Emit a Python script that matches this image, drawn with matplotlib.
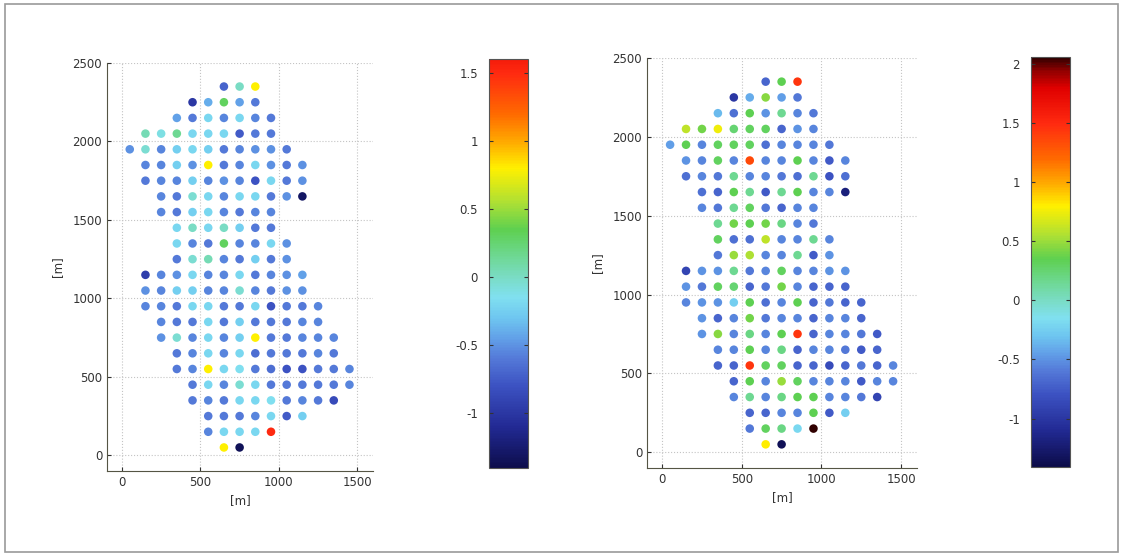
import matplotlib
matplotlib.use('Agg')
import matplotlib.pyplot as plt
import numpy as np
from matplotlib.colors import LinearSegmentedColormap, Normalize, to_rgb
from matplotlib.cm import ScalarMappable
from matplotlib.patches import Rectangle
from matplotlib.ticker import FormatStrFormatter

# grid rows: y position [m], x of first point [m]
row_y = [2350, 2250, 2150, 2050, 1950, 1850, 1750, 1650, 1550, 1450, 1350, 1250,
         1150, 1050, 950, 850, 750, 650, 550, 450, 350, 250, 150, 50]
row_x0 = [650, 450, 350, 150, 50, 150, 150, 250, 250, 350, 350, 350,
          150, 150, 150, 250, 250, 350, 350, 450, 450, 550, 550, 650]

# values per row, left panel
vals_left = [
    [-0.7, 0.0, 0.8],
    [-1.0, -0.4, 0.3, -0.45, -0.6],
    [-0.45, -0.6, -0.2, -0.55, -0.2, -0.55, -0.6],
    [0.05, -0.1, 0.15, -0.2, -0.2, -0.2, -0.75, -0.6, -0.6],
    [-0.5, -0.05, -0.55, -0.25, -0.2, -0.25, -0.6, -0.55, -0.5, -0.5, -0.6],
    [-0.55, -0.55, -0.25, -0.5, 0.8, -0.6, -0.55, -0.2, -0.5, -0.6, -0.5],
    [-0.6, -0.55, -0.55, -0.25, -0.55, -0.5, -0.55, -0.8, -0.2, -0.6, -0.5],
    [-0.55, -0.6, -0.05, -0.2, -0.55, -0.2, -0.2, -0.6, -0.5, -1.3],
    [-0.55, -0.6, -0.25, -0.2, -0.55, -0.6, -0.55, -0.55],
    [-0.2, 0.0, -0.2, 0.0, -0.25, -0.6, -0.6],
    [-0.2, -0.55, -0.6, 0.3, -0.55, -0.55, -0.2, -0.5],
    [-0.6, -0.05, 0.05, -0.55, -0.6, -0.25, -0.6, -0.5],
    [-0.95, -0.55, -0.5, -0.2, -0.55, -0.55, -0.2, -0.6, -0.55, -0.5, -0.45],
    [-0.5, -0.55, -0.25, -0.25, -0.55, -0.55, -0.05, -0.55, -0.6, -0.5, -0.5],
    [-0.55, -0.55, -0.6, -0.2, -0.2, -0.6, -0.6, -0.2, -0.8, -0.6, -0.6, -0.55],
    [-0.55, -0.6, -0.6, -0.2, -0.6, -0.25, -0.6, -0.6, -0.6, -0.55, -0.55],
    [-0.5, -0.05, -0.55, -0.2, -0.55, -0.25, 0.8, -0.6, -0.6, -0.55, -0.55, -0.55],
    [-0.6, -0.55, -0.2, -0.55, -0.2, -0.65, -0.6, -0.6, -0.6, -0.55, -0.6],
    [-0.6, -0.55, 0.8, -0.2, -0.15, -0.6, -0.65, -0.8, -0.8, -0.6, -0.6, -0.55],
    [-0.6, -0.2, -0.55, -0.05, -0.2, -0.6, -0.6, -0.6, -0.6, -0.6, -0.55],
    [-0.6, -0.55, -0.6, -0.2, -0.2, -0.15, -0.6, -0.55, -0.6, -0.85],
    [-0.6, -0.6, -0.6, -0.55, -0.2, -0.75, -0.25],
    [-0.55, -0.2, -0.2, -0.2, 1.5],
    [0.8, -1.35],
]

# values per row, right panel
vals_right = [
    [-0.7, 0.35, 1.45],
    [-1.0, -0.4, 0.45, -0.45, -0.6],
    [-0.35, -0.65, 0.35, -0.5, 0.15, -0.55, -0.6],
    [0.6, 0.4, 0.75, 0.25, 0.3, 0.3, -0.7, -0.5, -0.55],
    [-0.45, 0.35, -0.55, 0.3, 0.3, 0.3, -0.65, -0.55, -0.55, -0.55, -0.6],
    [-0.5, -0.55, 0.3, -0.55, 1.35, -0.55, -0.55, 0.35, -0.55, -0.75, -0.55],
    [-0.65, -0.55, -0.6, 0.15, -0.55, -0.55, -0.6, -0.65, 0.15, -0.8, -0.65],
    [-0.65, -0.7, 0.35, 0.15, -0.75, 0.15, 0.35, -0.55, -0.55, -1.2],
    [-0.55, -0.6, 0.15, 0.3, -0.6, -0.7, -0.55, -0.55],
    [0.15, 0.4, 0.35, 0.4, 0.2, -0.55, -0.6],
    [0.3, -0.65, -0.65, 0.6, -0.55, -0.55, 0.15, -0.55],
    [-0.6, 0.5, 0.55, -0.55, -0.55, 0.15, -0.75, -0.5],
    [-0.9, -0.5, -0.5, 0.15, -0.6, -0.55, 0.3, -0.55, -0.55, -0.5, -0.5],
    [-0.5, -0.6, 0.3, 0.25, -0.7, -0.6, 0.4, -0.55, -0.7, -0.7, -0.7],
    [-0.55, -0.5, -0.5, -0.25, 0.35, -0.65, -0.55, 0.35, -0.7, -0.6, -0.7, -0.7],
    [-0.5, -0.7, -0.55, 0.4, -0.6, -0.55, -0.55, -0.7, -0.55, -0.55, -0.7],
    [-0.5, 0.45, -0.55, 0.2, -0.55, 0.35, 1.45, -0.7, -0.55, -0.55, -0.6, -0.75],
    [-0.55, -0.55, 0.35, -0.55, 0.2, -0.7, -0.55, -0.55, -0.6, -0.75, -0.7],
    [-0.7, -0.7, 1.45, 0.3, 0.3, -0.7, -0.7, -0.85, -0.7, -0.6, -0.7, -0.55],
    [-0.7, 0.35, -0.55, 0.5, 0.3, -0.55, -0.55, -0.55, -0.75, -0.55, -0.55],
    [-0.55, 0.15, -0.55, 0.2, 0.35, 0.35, -0.55, -0.55, -0.6, -0.9],
    [-0.7, -0.7, -0.55, -0.55, 0.35, -0.75, -0.25],
    [-0.6, 0.3, 0.2, -0.2, 2.05],
    [0.8, -1.35],
]

clim_left = (-1.4, 1.6)
clim_right = (-1.41, 2.06)

# scanned-jet style colour anchors (value, colour)
anchor_v = [-1.41, -1.1, -0.8, -0.6, -0.45, -0.3, -0.15, 0.0, 0.15, 0.35,
            0.55, 0.8, 1.0, 1.2, 1.5, 1.8, 1.95, 2.06]
anchor_c = ['#0c0c4a', '#222a94', '#3c52c2', '#5479d8', '#62a0e8', '#6ec6f0',
            '#80e0f0', '#7adcc4', '#6ed894', '#5ed050', '#aee034', '#fff000',
            '#ffa800', '#ff6a00', '#ff2a10', '#e00000', '#900000', '#300000']


def make_cmap(vmin, vmax):
    vv = np.linspace(vmin, vmax, 256)
    rgb = np.array([to_rgb(c) for c in anchor_c])
    cols = np.stack([np.interp(vv, anchor_v, rgb[:, i]) for i in range(3)], axis=1)
    return LinearSegmentedColormap.from_list('scan_jet', cols)


def points(vals):
    xs, ys, cs = [], [], []
    for y, x0, row in zip(row_y, row_x0, vals):
        for i, v in enumerate(row):
            xs.append(x0 + 100 * i)
            ys.append(y)
            cs.append(v)
    return np.array(xs), np.array(ys), np.array(cs)


W, H = 1121, 554
fig = plt.figure(figsize=(W / 100, H / 100), dpi=100)
fig.patches.append(Rectangle((5 / W, 2 / H), 1113 / W, 548 / H, transform=fig.transFigure,
                             fill=False, edgecolor='#9a9a9a', lw=1.2))

tc = '#333333'
panels = [
    (vals_left, clim_left, [107 / W, 1 - 471 / H, 266 / W, 408 / H],
     [489 / W, 1 - 468 / H, 39 / W, 409 / H], [-1, -0.5, 0, 0.5, 1, 1.5]),
    (vals_right, clim_right, [647 / W, 1 - 468 / H, 270 / W, 410 / H],
     [1031 / W, 1 - 467 / H, 39 / W, 410 / H], [-1, -0.5, 0, 0.5, 1, 1.5, 2]),
]

for vals, clim, pos, cpos, cticks in panels:
    cmap = make_cmap(*clim)
    norm = Normalize(*clim)
    ax = fig.add_axes(pos)
    x, y, c = points(vals)
    ax.scatter(x, y, c=c, cmap=cmap, norm=norm, s=38, edgecolors='none', zorder=3)
    ax.set_xlim(-95, 1600)
    ax.set_ylim(-100, 2500)
    ax.set_xticks([0, 500, 1000, 1500])
    ax.set_yticks([0, 500, 1000, 1500, 2000, 2500])
    ax.grid(True, ls=':', color='#c4c4c4', lw=0.8)
    for s in ['top', 'right']:
        ax.spines[s].set_visible(False)
    for s in ['left', 'bottom']:
        ax.spines[s].set_color('#555544')
    ax.tick_params(direction='in', length=3, labelsize=8.5, colors=tc, labelcolor=tc)
    ax.set_xlabel('[m]', fontsize=8.5, color=tc, labelpad=4)
    ax.set_ylabel('[m]', fontsize=8.5, color=tc, labelpad=6)

    cax = fig.add_axes(cpos)
    cb = fig.colorbar(ScalarMappable(norm=norm, cmap=cmap), cax=cax, ticks=cticks)
    cax.yaxis.set_ticks_position('both')
    cax.tick_params(direction='in', length=3, labelsize=8.5, colors=tc, labelcolor=tc,
                    labelleft=True, labelright=False, pad=8)
    cax.yaxis.set_major_formatter(FormatStrFormatter('%g'))
    cb.outline.set_edgecolor('#555555')
    cb.outline.set_linewidth(0.8)

fig.savefig('out.png', dpi=100)
